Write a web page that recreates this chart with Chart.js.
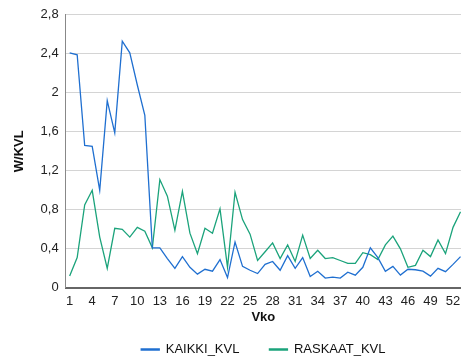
<!DOCTYPE html>
<html>
<head>
<meta charset="utf-8">
<script src="https://cdn.jsdelivr.net/npm/chart.js@4"></script>
<style>
	body { margin: 0; background: #fff; }
</style>
</head>
<body>
<canvas id="myChart" width="461" height="360"></canvas>
<script>
const ctx = document.getElementById('myChart');

// viikot 1..53, viikko 53 jää melkein reunalle
const weeks = [];
for (let w = 1; w <= 53; w++) weeks.push(w);
const weekTicks = [1, 4, 7, 10, 13, 16, 19, 22, 25, 28, 31, 34, 37, 40, 43, 46, 49, 52];

const kaikki = [
	2.41, 2.39, 1.46, 1.45, 1.00, 1.92, 1.59, 2.53, 2.41, 2.08,
	1.77, 0.41, 0.41, 0.30, 0.20, 0.32, 0.21, 0.14, 0.19, 0.17,
	0.29, 0.105, 0.47, 0.22, 0.18, 0.146, 0.24, 0.27, 0.18, 0.33,
	0.20, 0.31, 0.115, 0.17, 0.10, 0.11, 0.10, 0.16, 0.13, 0.21,
	0.41, 0.31, 0.17, 0.22, 0.13, 0.19, 0.185, 0.17, 0.12, 0.20,
	0.165, 0.24, 0.32,
];
const raskaat = [
	0.12, 0.31, 0.85, 1.00, 0.52, 0.20, 0.61, 0.60, 0.52, 0.62,
	0.58, 0.41, 1.11, 0.94, 0.59, 0.99, 0.56, 0.35, 0.61, 0.56,
	0.81, 0.21, 0.98, 0.70, 0.55, 0.28, 0.37, 0.46, 0.30, 0.44,
	0.27, 0.54, 0.30, 0.385, 0.30, 0.31, 0.28, 0.25, 0.25, 0.36,
	0.34, 0.29, 0.44, 0.53, 0.40, 0.21, 0.23, 0.385, 0.32, 0.49,
	0.35, 0.62, 0.78,
];

const blue = '#1f6fd0';
const green = '#1ba37b';
const font = 'Liberation Sans, Arial, sans-serif';

const toXY = (arr) => arr.map((v, i) => ({ x: weeks[i], y: v }));

// selite keskelle piirtoaluetta eikä koko kanvasia
const legendUnderPlot = {
	id: 'legendUnderPlot',
	afterLayout(chart) {
		chart.legend.left = chart.chartArea.left;
		chart.legend.right = chart.chartArea.right;
	},
};

new Chart(ctx, {
	type: 'line',
	data: {
		datasets: [
			{
				label: 'KAIKKI_KVL',
				data: toXY(kaikki),
				borderColor: blue,
				backgroundColor: blue,
				borderWidth: 1.3,
				pointRadius: 0,
				tension: 0,
			},
			{
				label: 'RASKAAT_KVL',
				data: toXY(raskaat),
				borderColor: green,
				backgroundColor: green,
				borderWidth: 1.3,
				pointRadius: 0,
				tension: 0,
			},
		],
	},
	options: {
		responsive: false,
		animation: false,
		layout: { padding: { top: 6, right: 0, left: 8, bottom: -6 } },
		scales: {
			x: {
				type: 'linear',
				min: 0.47,
				max: 53.06,
				afterBuildTicks: (scale) => {
					scale.ticks = weekTicks.map((v) => ({ value: v }));
				},
				afterFit: (scale) => {
					scale.paddingLeft = 0;
					scale.paddingRight = 0;
				},
				grid: { display: false, drawTicks: false },
				border: { color: '#666', width: 2 },
				ticks: {
					autoSkip: false,
					maxRotation: 0,
					padding: 6,
					color: '#222',
					font: { family: font, size: 13 },
				},
				title: {
					display: true,
					text: 'Vko',
					color: '#111',
					padding: { top: -6, bottom: -12 },
					font: { family: font, size: 13, weight: 'bold' },
				},
			},
			y: {
				min: 0,
				max: 2.8,
				ticks: {
					stepSize: 0.4,
					padding: 7,
					color: '#222',
					font: { family: font, size: 13 },
					callback: (v) => String(Number(v.toFixed(1))).replace('.', ','),
				},
				grid: { color: '#d4d4d4', drawTicks: false },
				border: { color: '#888', width: 1 },
				title: {
					display: true,
					text: 'W/KVL',
					color: '#111',
					padding: { bottom: 6 },
					font: { family: font, size: 13, weight: 'bold' },
				},
			},
		},
		plugins: {
			legend: {
				position: 'bottom',
				labels: {
					boxWidth: 18,
					boxHeight: 1,
					padding: 30,
					color: '#111',
					font: { family: font, size: 13 },
				},
			},
			tooltip: false,
		},
	},
	plugins: [legendUnderPlot],
});
</script>
</body>
</html>
